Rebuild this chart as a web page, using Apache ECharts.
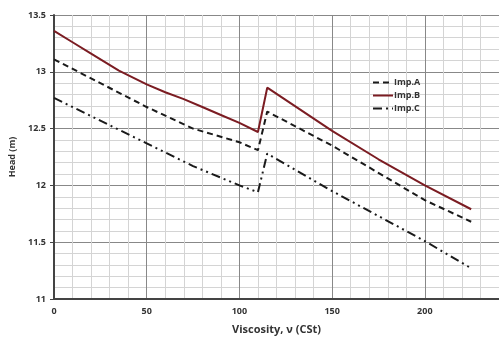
<!DOCTYPE html>
<html>
<head>
<meta charset="utf-8">
<script src="https://cdn.jsdelivr.net/npm/echarts@6/dist/echarts.min.js"></script>
<style>
  html, body { margin: 0; padding: 0; background: #fff; }
  #chart { width: 499px; height: 341px; }
</style>
</head>
<body>
<div id="chart"></div>
<script>
// values: [viscosity, head]
const impA = [[0, 13.11], [25, 12.9], [50, 12.69], [75, 12.5], [100, 12.38], [110, 12.31],
  [115, 12.65], [150, 12.35], [200, 11.87], [225, 11.68]]
const impB = [[0, 13.36], [10, 13.26], [20, 13.16], [35, 13.01], [50, 12.89], [60, 12.82],
  [70, 12.76], [80, 12.69], [90, 12.62], [100, 12.55], [110, 12.47],
  [115, 12.86], [150, 12.48], [175, 12.23], [200, 12.0], [225, 11.79]]
const impC = [[0, 12.77], [25, 12.57], [50, 12.37], [75, 12.17], [100, 12.0], [110, 11.94],
  [115, 12.28], [150, 11.95], [200, 11.51], [225, 11.27]]

const labelFont = { fontFamily: 'Open Sans', fontWeight: 'bold', fontSize: 9, color: '#333' }

const chart = echarts.init(document.getElementById('chart'))
chart.setOption({
  animation: false,
  grid: { left: 54, width: 450, top: 15, bottom: 42 },
  legend: {
    left: 367, top: 73, orient: 'vertical', itemGap: 4,
    itemWidth: 20, itemHeight: 10,
    itemStyle: { opacity: 0 },
    textStyle: { fontFamily: 'Open Sans', fontWeight: 'bold', fontSize: 9, color: '#333', padding: [0, 0, 0, -4] },
    data: ['Imp.A', 'Imp.B', 'Imp.C']
  },
  xAxis: {
    type: 'value', min: 0, max: 240, interval: 50,
    name: 'Viscosity, ν (CSt)', nameLocation: 'middle', nameGap: 25,
    nameTextStyle: { fontFamily: 'Open Sans', fontWeight: 'bold', fontSize: 11, color: '#333' },
    axisLine: { lineStyle: { color: '#444', width: 2 } },
    axisTick: { show: false },
    axisLabel: Object.assign({ margin: 8, showMaxLabel: false }, labelFont),
    splitLine: { lineStyle: { color: '#888', width: 1 } },
    minorTick: { show: false, splitNumber: 5 },
    minorSplitLine: { show: true, lineStyle: { color: '#d4d4d4', width: 1 } }
  },
  yAxis: {
    type: 'value', min: 11, max: 13.5, interval: 0.5,
    name: 'Head (m)', nameLocation: 'middle', nameGap: 36,
    nameTextStyle: { fontFamily: 'Open Sans', fontWeight: 'bold', fontSize: 9, color: '#333' },
    axisLine: { show: true, lineStyle: { color: '#444', width: 2 } },
    axisTick: { show: true, length: 4, lineStyle: { color: '#444' } },
    axisLabel: Object.assign({ margin: 8 }, labelFont),
    splitLine: { lineStyle: { color: '#888', width: 1 } },
    minorTick: { show: false, splitNumber: 5 },
    minorSplitLine: { show: true, lineStyle: { color: '#d4d4d4', width: 1 } }
  },
  series: [
    {
      name: 'Imp.A', type: 'line', data: impA, symbol: 'none',
      lineStyle: { color: '#1a1a1a', width: 2, type: [6, 4] },
      itemStyle: { color: '#1a1a1a' }
    },
    {
      name: 'Imp.B', type: 'line', data: impB, symbol: 'none',
      lineStyle: { color: '#7b1c22', width: 2 },
      itemStyle: { color: '#7b1c22' }
    },
    {
      name: 'Imp.C', type: 'line', data: impC, symbol: 'none',
      lineStyle: { color: '#1a1a1a', width: 2, type: [9, 4, 2, 4, 2, 4] },
      itemStyle: { color: '#1a1a1a' }
    }
  ]
})
</script>
</body>
</html>
